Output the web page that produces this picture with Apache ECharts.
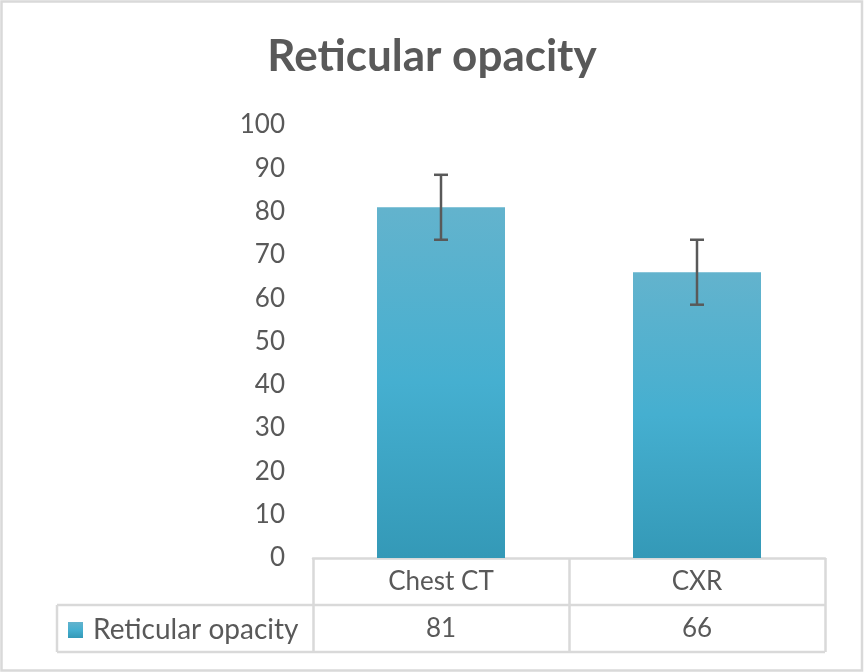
<!DOCTYPE html>
<html>
<head>
<meta charset="utf-8">
<script src="https://cdn.jsdelivr.net/npm/echarts@6/dist/echarts.min.js"></script>
<style>
  html, body { margin: 0; padding: 0; background: #fff; }
  #chart { width: 864px; height: 672px; }
</style>
</head>
<body>
<div id="chart"></div>
<script>
const categories = ['Chest CT', 'CXR']
const values = [81, 66]
const errors = [7.5, 7.5]
const seriesName = 'Reticular opacity'
const yTicks = { min: 0, max: 100, interval: 10 }

const font = 'Lato, "Open Sans", sans-serif'
const textColor = '#595959'
const lineColor = '#d9d9d9'

const chart = echarts.init(document.getElementById('chart'))

const grid = { left: 313, right: 39, top: 125, bottom: 114 }
const rowH = 47

chart.setOption({
  backgroundColor: '#fff',
  animation: false,
  title: {
    text: seriesName,
    left: 'center',
    top: 30,
    textStyle: { fontFamily: font, fontWeight: 'bold', fontSize: 44, color: textColor }
  },
  legend: {
    data: [seriesName],
    left: 63,
    top: 611,
    itemWidth: 15,
    itemHeight: 16,
    icon: 'rect',
    textStyle: { fontFamily: font, fontSize: 28, lineHeight: 26, color: textColor, padding: [0, 0, 0, 5] }
  },
  grid: grid,
  xAxis: {
    type: 'category',
    data: categories,
    axisLine: { lineStyle: { color: lineColor, width: 2.5 } },
    axisTick: { show: true, length: rowH * 2, lineStyle: { color: lineColor, width: 2.5 } },
    axisLabel: {
      margin: 0,
      interval: 0,
      formatter: (v, i) => '{c|' + v + '}\n{v|' + values[i] + '}',
      rich: {
        c: { fontFamily: font, fontSize: 26, color: textColor, height: rowH, lineHeight: rowH },
        v: { fontFamily: font, fontSize: 26, color: textColor, height: rowH, lineHeight: rowH }
      }
    }
  },
  yAxis: {
    type: 'value',
    min: yTicks.min,
    max: yTicks.max,
    interval: yTicks.interval,
    axisLine: { show: false },
    axisTick: { show: false },
    splitLine: { show: false },
    axisLabel: { margin: 28, fontFamily: font, fontSize: 26, color: textColor }
  },
  series: [
    {
      name: seriesName,
      type: 'bar',
      data: values,
      barWidth: '50%',
      itemStyle: {
        color: new echarts.graphic.LinearGradient(0, 0, 0, 1, [
          { offset: 0, color: '#63b3cd' },
          { offset: 0.5, color: '#45afd0' },
          { offset: 1, color: '#3499b7' }
        ]),
        shadowBlur: 7,
        shadowColor: 'rgba(0,0,0,0.4)',
        shadowOffsetX: 2,
        shadowOffsetY: 1
      }
    },
    {
      type: 'custom',
      name: 'error',
      data: values.map((v, i) => [i, v - errors[i], v + errors[i]]),
      z: 10,
      renderItem: (params, api) => {
        const lo = api.coord([api.value(0), api.value(1)])
        const hi = api.coord([api.value(0), api.value(2)])
        const x = lo[0]
        const cap = 7
        const style = { stroke: '#595959', lineWidth: 2.5 }
        return {
          type: 'group',
          children: [
            { type: 'line', shape: { x1: x, y1: lo[1], x2: x, y2: hi[1] }, style },
            { type: 'line', shape: { x1: x - cap, y1: lo[1], x2: x + cap, y2: lo[1] }, style },
            { type: 'line', shape: { x1: x - cap, y1: hi[1], x2: x + cap, y2: hi[1] }, style }
          ]
        }
      }
    }
  ]
})

// table borders around the data table under the plot
const yBase = chart.getHeight() - grid.bottom
const tableRight = chart.getWidth() - grid.right
const tableLeft = 57
const border = { stroke: lineColor, lineWidth: 2.5 }
chart.setOption({
  graphic: [
    { type: 'rect', shape: { x: 1.5, y: 1.5, width: 860.5, height: 669 }, style: { fill: 'none', stroke: lineColor, lineWidth: 2.5 } },
    { type: 'line', shape: { x1: tableLeft, y1: yBase + rowH, x2: tableRight, y2: yBase + rowH }, style: border },
    { type: 'line', shape: { x1: tableLeft, y1: yBase + rowH * 2, x2: tableRight, y2: yBase + rowH * 2 }, style: border },
    { type: 'line', shape: { x1: tableLeft, y1: yBase + rowH, x2: tableLeft, y2: yBase + rowH * 2 }, style: border }
  ]
})
</script>
</body>
</html>
